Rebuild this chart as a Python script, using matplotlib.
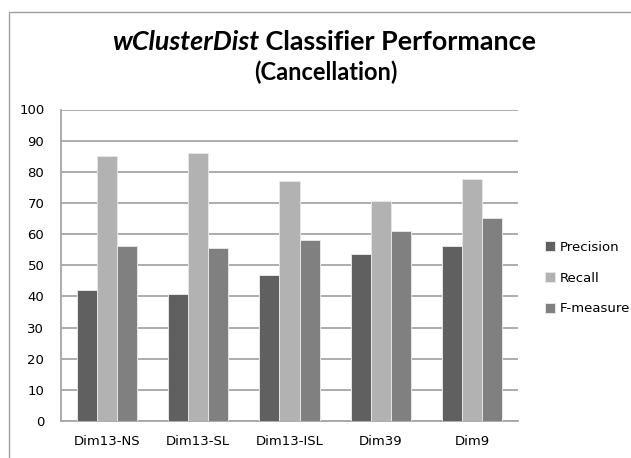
import numpy as np
import matplotlib
matplotlib.use('Agg')
import matplotlib.pyplot as plt
from matplotlib.patches import Rectangle

categories = ['Dim13-NS', 'Dim13-SL', 'Dim13-ISL', 'Dim39', 'Dim9']
precision = [42.2, 40.9, 46.8, 53.7, 56.3]
recall = [85.1, 86.0, 76.9, 70.6, 77.7]
fmeasure = [56.3, 55.5, 58.0, 61.0, 65.3]
series_names = ['Precision', 'Recall', 'F-measure']
colors = ['#606060', '#b2b2b2', '#808080']

W, H = 631, 458
fig = plt.figure(figsize=(W / 100, H / 100), dpi=100)
ax = fig.add_axes([61 / W, 1 - 421 / H, (518 - 61) / W, (421 - 109.5) / H])

# outer chart border
fig.patches.append(Rectangle((9 / W, -0.1), 1.2, 1 - 12 / H + 0.1,
                             transform=fig.transFigure, fill=False,
                             edgecolor='#a0a0a0', linewidth=1.0))

x = np.arange(len(categories))
bw = 0.22
for i, vals in enumerate([precision, recall, fmeasure]):
    ax.bar(x + (i - 1) * bw, vals, bw, color=colors[i], edgecolor='#e6e6e6',
           linewidth=0.7, label=series_names[i], zorder=3)

ax.set_xlim(-0.5, len(categories) - 0.5)
ax.set_ylim(0, 100)
ax.set_yticks(range(0, 101, 10))
ax.set_xticks(x)
ax.set_xticklabels(categories)
ax.yaxis.grid(True, color='#a6a6a6', linewidth=1.3, zorder=0)
ax.set_axisbelow(True)
for s in ['top', 'right']:
    ax.spines[s].set_visible(False)
for s in ['left', 'bottom']:
    ax.spines[s].set_color('#a6a6a6')
    ax.spines[s].set_linewidth(1.3)
ax.tick_params(axis='both', length=0, labelsize=9.5, colors='black')
ax.tick_params(axis='y', pad=12)
ax.tick_params(axis='x', pad=10)

leg = fig.legend(loc='upper left', bbox_to_anchor=(533 / W, 1 - 229 / H),
                 frameon=False, fontsize=9.5, handlelength=0.8, handleheight=0.8,
                 handletextpad=0.3, labelspacing=1.35)

# title with italic first word
renderer = fig.canvas.get_renderer()
tkw = dict(fontsize=19.4, fontweight='bold', family='Lato', va='center')
t1 = fig.text(0, 1 - 42 / H, 'wClusterDist', style='italic', **tkw)
t2 = fig.text(0, 1 - 42 / H, ' Classifier Performance', **tkw)
w1 = t1.get_window_extent(renderer).width
w2 = t2.get_window_extent(renderer).width
x0 = 324 - (w1 + w2) / 2
t1.set_x(x0 / W)
t2.set_x((x0 + w1) / W)
fig.text(326 / W, 1 - 72 / H, '(Cancellation)', fontsize=17, fontweight='bold',
         family='Lato', ha='center', va='center')

fig.savefig('out.png', dpi=100)
